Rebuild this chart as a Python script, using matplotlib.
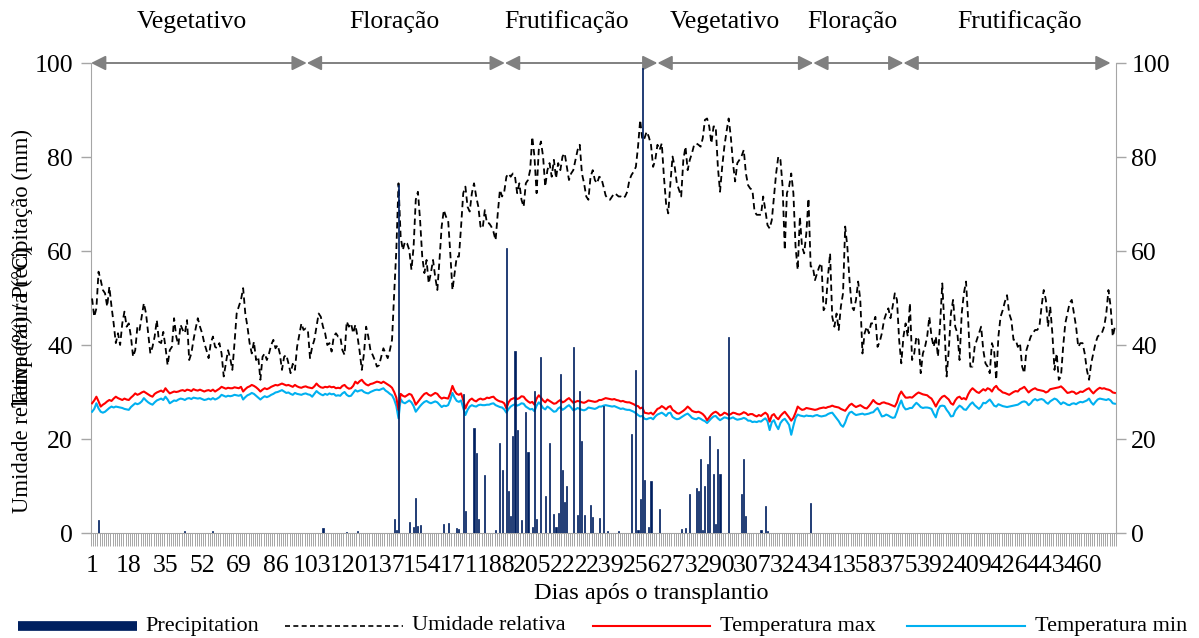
import numpy as np
import matplotlib
matplotlib.use('Agg')
import matplotlib.pyplot as plt
from matplotlib.lines import Line2D
from matplotlib.ticker import FixedLocator

# ---------------- data ----------------
humidity = [
    49.9, 46.0, 47.8, 55.6, 53.8, 51.7, 51.0, 48.2, 52.4, 48.2,
    44.6, 40.4, 42.5, 40.0, 44.6, 47.1, 43.9, 44.6, 41.8, 37.5,
    38.9, 43.9, 43.2, 46.0, 48.9, 46.7, 42.5, 38.2, 39.6, 41.8,
    45.3, 40.7, 40.4, 42.8, 39.6, 35.7, 38.9, 39.6, 45.7, 41.8,
    40.0, 44.3, 43.2, 42.5, 45.3, 36.8, 38.2, 41.1, 43.5, 45.7,
    43.9, 42.5, 40.4, 38.9, 37.2, 40.4, 41.8, 39.6, 39.3, 40.4,
    38.2, 33.3, 36.1, 38.9, 37.2, 34.7, 40.4, 46.7, 48.2, 49.6,
    52.1, 46.7, 43.9, 40.4, 38.2, 40.7, 36.8, 37.5, 32.6, 37.5,
    38.2, 36.8, 38.2, 40.0, 41.1, 39.3, 40.0, 38.2, 34.7, 37.5,
    37.9, 36.1, 34.0, 36.0, 34.7,
    39.6, 42.1, 44.6, 43.2, 43.5, 43.2, 37.2, 39.6, 41.1, 43.9,
    46.7, 46.0, 43.9, 42.5, 40.0, 40.4, 38.6, 41.8, 42.5, 41.8,
    41.8, 38.9, 37.9, 45.0, 43.9, 44.6, 42.5, 44.3, 41.8, 38.6,
    34.7, 38.2, 43.9, 41.8, 38.9, 37.9, 36.8, 35.4, 35.7, 37.5,
    39.3, 38.2, 37.2, 38.9, 41.1, 51.0, 60.2, 74.4, 63.0, 60.2,
    62.0, 61.6, 60.2, 56.0, 60.9, 70.9, 72.6, 66.6, 58.8, 55.3,
    58.1, 53.1, 55.3, 58.1, 54.5, 51.7, 58.1, 65.2, 68.7, 67.3,
    66.6, 59.5, 51.7, 55.3, 58.8, 58.8, 65.2, 72.3, 73.7, 69.4,
    68.4, 72.3, 74.4, 71.6, 69.4, 65.2, 64.8, 68.7, 65.9, 65.9,
    65.2, 64.1, 62.3, 68.0, 73.0,
    71.6, 72.6, 75.8, 76.5, 75.8, 76.5, 75.8, 72.3, 74.4, 70.9,
    69.4, 74.4, 75.1, 77.2, 84.3, 80.1, 72.3, 81.5, 83.3, 80.1,
    73.7, 77.2, 78.7, 75.8, 79.4, 75.5, 78.7, 77.2, 80.1, 80.8,
    77.9, 75.1, 76.5, 77.2, 79.4, 81.5, 82.6, 76.5, 74.4, 71.6,
    70.9, 75.8, 77.2, 75.1, 74.4, 75.8, 75.5, 73.7, 71.8, 71.1,
    70.9, 71.6, 72.3, 72.0, 71.6, 71.6, 71.2, 71.6, 72.6, 75.1,
    76.2, 76.9, 77.9, 82.2, 87.9, 83.6, 84.0, 85.4, 84.3, 82.6,
    77.9, 79.4, 82.6, 81.5, 82.9, 75.8, 70.1, 68.0, 74.4, 80.1,
    77.9, 74.4, 73.0, 71.6, 79.4, 82.2, 77.2, 79.4, 80.8, 82.6,
    82.9, 82.6, 82.2, 84.0, 87.9,
    88.2, 86.5, 82.9, 86.5, 86.5, 77.9, 72.6, 77.9, 82.2, 85.4,
    88.2, 84.3, 78.7, 74.8, 78.7, 79.4, 80.2, 81.5, 76.5, 74.0,
    73.3, 73.0, 68.4, 67.7, 67.7, 67.7, 71.6, 68.7, 65.5, 64.8,
    66.6, 71.6, 76.5, 80.1, 79.4, 73.7, 60.2, 72.3, 73.7, 76.5,
    72.3, 60.9, 56.0, 67.3, 60.9, 59.5, 63.8, 71.2, 56.7, 56.7,
    53.8, 55.3, 56.7, 57.4, 47.4, 48.2, 54.5, 59.5, 46.0, 43.9,
    46.7, 43.2, 48.2, 51.0, 65.2, 60.9, 53.8, 48.2, 47.4, 49.6,
    53.5, 49.6, 38.2, 42.5, 43.9, 42.5, 44.6, 44.6, 46.0, 39.6,
    40.7, 42.5, 45.3, 46.7, 47.8, 45.7, 48.2, 51.0, 49.6, 41.1,
    36.1, 41.8, 44.6, 41.8, 48.9, 36.8,
    38.2, 41.8, 41.1, 34.0, 38.2, 39.6, 41.8, 46.0, 41.8, 39.6,
    41.8, 37.5, 44.6, 53.1, 43.9, 33.3, 38.9, 46.7, 49.6, 43.9,
    42.5, 36.8, 46.7, 51.0, 53.5, 45.3, 35.4, 35.4, 39.6, 41.1,
    42.5, 43.9, 38.9, 36.1, 35.4, 34.0, 40.4, 38.9, 32.6, 41.8,
    46.0, 47.4, 49.2, 50.6, 46.7, 45.3, 41.1, 41.1, 39.6, 40.4,
    35.4, 34.0, 38.9, 40.4, 41.8, 42.5, 43.2, 43.2, 43.9, 48.2,
    51.7, 49.6, 43.9, 48.2, 42.5, 34.7, 38.2, 32.6, 33.3, 39.6,
    44.6, 46.7, 48.9, 49.6, 46.7, 43.9, 39.6, 40.4, 40.4, 38.2,
    34.7, 32.6, 36.1, 38.2, 40.4, 41.8, 42.2, 42.6, 43.9, 46.7,
    51.7, 48.2, 41.8, 43.9,
]

temp_max = [
    27.6, 28.2, 29.0, 28.0, 26.9, 27.3, 27.6, 28.0, 28.3, 28.1,
    28.6, 29.0, 28.7, 28.5, 28.3, 28.6, 28.4, 28.3, 28.8, 29.2,
    29.7, 29.4, 29.6, 29.9, 30.1, 29.8, 29.5, 29.2, 29.0, 29.6,
    29.9, 30.1, 30.3, 30.0, 30.8, 30.2, 29.7, 29.9, 30.1, 30.0,
    30.1, 30.3, 30.4, 30.2, 30.5, 30.4, 30.2, 30.6, 30.4, 30.3,
    30.5, 30.3, 30.1, 30.3, 30.4, 30.2, 30.5, 30.1, 30.4, 30.7,
    31.1, 30.9, 30.7, 30.9, 30.8, 30.8, 31.0, 30.9, 30.8, 31.1,
    30.1, 30.6, 31.0, 31.2, 31.5, 31.3, 31.0, 30.6, 30.1, 30.5,
    30.8, 30.6, 30.8, 31.1, 31.3, 31.5, 31.4, 31.6, 31.8, 31.6,
    31.4, 31.5, 31.3, 31.1, 31.5, 31.2, 31.0, 30.9, 31.1, 31.2,
    31.0, 30.9, 30.8, 31.2, 31.8, 31.3, 31.0, 30.9, 31.1, 31.0,
    31.2, 31.0, 31.1, 30.8, 30.9, 30.8, 31.3, 31.5, 31.0, 30.7,
    30.8, 31.3, 32.2, 31.8, 32.3, 32.6, 32.0, 31.6, 31.4, 31.7,
    31.8, 32.0, 32.2, 32.1, 31.9, 32.2, 31.9, 31.6, 31.3, 30.9,
    30.0, 28.8, 26.2, 29.6, 29.2, 29.0, 29.3, 29.6, 29.4, 28.5,
    27.3, 27.9, 28.5, 29.1, 29.6, 29.8, 29.4, 29.2, 29.5, 29.8,
    29.6, 29.0, 28.6, 28.8, 28.7, 28.6, 29.8, 31.3, 30.2, 29.6,
    29.4, 29.7, 28.3, 26.5, 27.6, 28.3, 28.6, 28.2, 28.0, 28.4,
    28.6, 28.4, 28.5, 28.8, 28.7, 28.9, 29.0, 28.5, 28.2, 28.0,
    27.9, 27.6, 26.5, 27.8, 28.4, 28.6, 28.8, 28.5, 28.7, 29.1,
    29.0, 28.4, 28.0, 27.7, 27.9, 27.3, 28.6, 29.3, 28.8, 28.2,
    27.8, 28.4, 28.1, 27.8, 27.5, 27.6, 28.0, 28.3, 27.8, 28.0,
    28.4, 28.7, 28.2, 27.7, 27.9, 28.1, 28.0, 27.8, 27.7, 27.9,
    28.2, 28.1, 28.0, 27.9, 28.0, 28.3, 28.3, 28.5, 28.7, 28.6,
    28.5, 28.4, 28.5, 28.3, 28.2, 28.0, 28.1, 27.9, 27.8, 27.8,
    27.6, 27.4, 27.1, 27.0, 26.5, 26.7, 25.6, 25.5, 25.4, 25.6,
    25.2, 25.8, 26.4, 26.6, 27.0, 26.7, 26.3, 26.8, 27.0, 26.2,
    25.9, 25.5, 25.4, 25.7, 26.0, 26.4, 26.9, 26.5, 26.0, 25.8,
    25.7, 25.8, 25.6, 25.3, 24.8, 24.0, 24.6, 25.2, 25.6, 25.8,
    25.5, 25.0, 25.2, 25.6, 25.4, 25.1, 25.3, 25.6, 25.5, 25.3,
    25.2, 25.4, 25.7, 25.5, 25.1, 25.3, 25.3, 25.0, 24.8, 25.1,
    24.9, 25.3, 25.6, 25.2, 23.7, 25.0, 25.3, 24.6, 24.2, 24.9,
    25.4, 25.8, 25.2, 24.6, 23.9, 24.5, 25.6, 26.9, 26.5, 26.2,
    26.3, 26.6, 26.5, 26.4, 26.3, 26.2, 26.3, 26.5, 26.6, 26.7,
    26.6, 26.8, 26.9, 27.1, 26.9, 26.8, 26.7, 26.4, 26.2, 26.0,
    26.6, 27.2, 27.5, 27.1, 26.8, 27.0, 27.2, 26.9, 26.6, 26.5,
    27.0, 27.6, 28.3, 27.8, 27.5, 27.4, 27.7, 27.8, 27.6, 27.5,
    27.3, 27.1, 26.9, 27.8, 29.3, 30.1, 29.4, 28.8, 28.8, 28.9,
    28.8, 29.2, 29.6, 29.9, 29.7, 29.5, 29.4, 29.3, 28.9, 28.6,
    27.8, 26.9, 27.8, 28.5, 29.0, 29.2, 28.8, 28.4, 27.6, 27.3,
    28.2, 28.8, 29.0, 28.5, 28.7, 28.4, 29.5, 30.3, 30.8, 30.4,
    30.0, 29.8, 30.2, 30.6, 30.3, 30.8, 30.6, 30.1, 30.9, 31.3,
    30.6, 30.3, 29.9, 29.8, 29.6, 29.4, 29.7, 30.0, 30.2, 30.1,
    30.6, 30.8, 31.1, 30.5, 29.9, 30.3, 30.6, 30.8, 30.5, 30.4,
    30.3, 30.2, 29.9, 30.1, 30.6, 30.7, 30.8, 30.9, 31.0, 31.2,
    30.8, 30.3, 29.8, 29.9, 30.1, 30.0, 29.6, 29.8, 30.1, 30.0,
    30.3, 30.6, 30.8, 30.2, 29.7, 30.2, 30.6, 30.9, 30.7, 30.8,
    30.6, 30.5, 30.3, 29.9, 29.8,
]

temp_min = [
    25.8, 26.4, 27.6, 26.5, 25.8, 25.6, 25.8, 26.2, 26.6, 26.9,
    26.7, 26.9, 26.8, 26.7, 26.6, 26.4, 26.3, 26.2, 26.8, 27.2,
    27.6, 27.4, 27.6, 28.0, 28.7, 28.2, 27.8, 27.5, 27.3, 27.8,
    28.2, 28.4, 28.6, 28.3, 29.0, 28.4, 27.6, 27.9, 28.2, 28.1,
    28.4, 28.6, 28.5, 28.3, 28.6, 28.7, 28.5, 28.8, 28.7, 28.6,
    28.7, 28.5, 28.3, 28.4, 28.6, 28.4, 28.7, 28.4, 28.6, 28.9,
    29.4, 29.2, 29.0, 29.2, 29.1, 29.2, 29.4, 29.3, 29.2, 29.4,
    28.4, 28.9, 29.3, 29.5, 29.8, 29.6, 29.2, 28.8, 28.4, 28.8,
    29.1, 28.9, 29.1, 29.4, 29.6, 29.9, 30.0, 30.2, 30.4, 30.1,
    29.8, 29.9, 29.6, 29.4, 29.8, 29.6, 29.5, 29.4, 29.6, 29.7,
    29.5, 29.4, 29.0, 29.6, 30.2, 29.8, 29.5, 29.3, 29.6, 29.4,
    29.7, 29.5, 29.6, 29.2, 29.3, 29.2, 29.7, 30.0, 29.4, 29.1,
    29.2, 29.8, 30.4, 30.1, 30.3, 30.4, 30.0, 29.8, 29.7, 30.0,
    30.2, 30.4, 30.5, 30.4, 30.6, 30.8, 30.3, 30.0, 29.6, 29.3,
    28.4, 27.0, 24.4, 28.5, 27.8, 27.6, 27.9, 28.2, 27.8, 27.0,
    25.8, 26.4, 27.0, 27.5, 27.9, 28.1, 27.8, 27.6, 27.8, 28.0,
    27.8, 27.3, 26.8, 27.1, 27.0, 27.2, 28.3, 29.8, 28.8, 28.1,
    27.9, 28.2, 26.6, 25.1, 26.2, 26.9, 27.2, 27.0, 26.9, 27.2,
    27.3, 27.2, 27.2, 27.3, 27.3, 27.5, 27.6, 27.2, 27.0, 26.8,
    26.7, 26.3, 25.6, 26.4, 26.9, 27.2, 27.4, 27.1, 27.3, 27.6,
    27.5, 26.9, 26.6, 26.3, 26.4, 25.9, 27.1, 27.8, 27.3, 26.6,
    26.3, 26.9, 26.6, 26.2, 25.8, 25.9, 26.5, 26.8, 26.2, 26.5,
    26.9, 27.2, 26.7, 26.1, 26.3, 26.6, 26.4, 26.2, 26.1, 26.3,
    26.7, 26.6, 26.5, 26.4, 26.6, 26.9, 26.9, 27.1, 27.2, 27.1,
    27.0, 26.9, 27.0, 26.8, 26.6, 26.4, 26.5, 26.3, 26.2, 26.2,
    26.0, 25.8, 25.5, 25.1, 24.8, 24.9, 24.3, 24.2, 24.4, 24.5,
    24.2, 24.8, 25.2, 25.4, 25.6, 25.3, 24.9, 25.5, 25.6, 24.7,
    24.4, 24.2, 24.3, 24.6, 24.9, 25.2, 25.4, 25.0, 24.5, 24.3,
    24.2, 24.5, 24.3, 24.0, 23.8, 23.4, 23.9, 24.4, 24.8, 24.9,
    24.4, 24.0, 24.3, 24.6, 24.5, 24.3, 24.4, 24.6, 24.3, 24.1,
    24.2, 24.3, 24.5, 24.3, 23.9, 23.9, 23.6, 23.7, 23.6, 23.8,
    23.7, 24.1, 24.4, 23.8, 21.9, 23.6, 24.0, 22.9, 22.1, 23.4,
    24.0, 24.3, 23.7, 23.0, 20.9, 22.8, 24.5, 25.2, 25.0, 24.9,
    24.8, 25.0, 24.9, 24.9, 24.8, 25.0, 25.1, 24.9, 24.8, 24.9,
    25.0, 25.3, 25.5, 25.6, 25.0, 24.4, 23.8, 23.0, 22.6, 23.5,
    24.8, 25.6, 25.8, 25.4, 25.1, 25.2, 25.3, 25.4, 25.2, 25.3,
    25.4, 25.6, 25.7, 26.2, 26.6, 25.7, 24.8, 24.9, 25.2, 25.0,
    24.7, 24.5, 24.6, 25.8, 27.2, 28.2, 26.9, 26.3, 26.4, 26.6,
    26.6, 27.2, 27.7, 27.3, 26.8, 26.6, 26.7, 26.7, 26.6, 26.4,
    25.4, 24.6, 26.2, 27.0, 27.1, 27.0, 26.2, 25.6, 24.8, 24.9,
    26.0, 26.6, 27.1, 26.8, 26.3, 26.2, 26.8, 27.4, 27.8, 27.2,
    26.8, 26.4, 26.9, 27.7, 27.6, 28.0, 28.4, 27.8, 27.1, 26.9,
    27.4, 27.2, 27.0, 26.9, 26.8, 26.9, 27.0, 27.1, 27.2, 27.3,
    27.6, 27.9, 28.0, 27.8, 27.2, 27.6, 28.2, 28.5, 28.2, 28.4,
    28.5, 28.3, 27.8, 27.5, 28.0, 28.3, 28.6, 28.4, 27.9, 27.4,
    27.8, 27.6, 27.3, 27.2, 27.5, 27.6, 27.4, 27.7, 27.9, 27.8,
    28.0, 28.2, 28.6, 27.8, 27.3, 27.9, 28.4, 28.6, 28.5, 28.4,
    28.3, 28.5, 28.2, 27.6, 27.5,
]

precip_days = [
    4, 44, 57, 108, 119, 124, 141, 142, 143, 148, 150, 151, 152, 153, 164,
    166, 170, 171, 173, 174, 178, 179, 180, 183, 188, 190,
    191, 193, 194, 195, 196, 197, 198, 200, 202, 203,
    205, 206, 207, 209, 211, 213, 215, 216, 217, 218,
    219, 220, 221, 224, 226, 227, 228, 229, 232, 233,
    236, 238, 240, 245, 251, 253, 254, 255, 256, 257,
    259, 260, 264, 274, 276, 278, 281, 282, 283, 284, 285,
    286, 287, 289, 290, 291, 292, 296, 302, 303, 304, 311, 313, 314, 334,
]
precip_vals = [
    2.8, 0.4, 0.4, 1.0, 0.3, 0.4, 2.9, 0.6, 74.0, 2.3, 1.2, 7.4, 1.5, 1.7, 1.9,
    2.1, 1.0, 0.9, 29.6, 4.6, 22.3, 17.0, 2.9, 12.3, 0.6, 19.1,
    13.4, 60.7, 9.0, 3.6, 20.6, 38.7, 21.9, 2.8, 25.8, 17.3,
    1.3, 30.2, 2.9, 37.4, 7.9, 19.1, 4.1, 1.3, 4.3, 33.9,
    13.4, 6.7, 9.9, 39.6, 3.8, 30.2, 19.6, 3.8, 6.0, 3.5,
    3.2, 27.0, 0.4, 0.4, 21.0, 34.7, 0.6, 7.2, 99.0, 11.3,
    1.3, 11.0, 5.1, 0.9, 1.1, 8.3, 9.6, 9.0, 15.8, 0.6, 10.0,
    14.7, 20.6, 12.6, 1.9, 17.9, 12.6, 41.8, 8.3, 15.7, 3.6, 0.6, 5.7, 0.4, 6.4,
]

xtick_days = list(range(1, 461, 17))
y_ticks = [0, 20, 40, 60, 80, 100]

phase_names = ['Vegetativo', 'Floração', 'Frutificação',
               'Vegetativo', 'Floração', 'Frutificação']
phase_edges = [0.5, 100.5, 192.3, 263.0, 335.2, 377.0, 473.0]
phase_label_days = [47.3, 141.3, 221.0, 294.2, 353.4, 430.8]

legend_labels = ['Precipitation', 'Umidade relativa',
                 'Temperatura max', 'Temperatura min']

# ---------------- style ----------------
plt.rcParams['font.family'] = ['Liberation Serif', 'DejaVu Serif']
FS = 18.5
GRAY = '#a6a6a6'
NAVY = '#002060'
RED = '#ff0000'
CYAN = '#00b0f0'

n = min(len(humidity), len(temp_max), len(temp_min))
days = np.arange(1, n + 1)
precip = np.zeros(n)
for d, v in zip(precip_days, precip_vals):
    precip[d - 1] = v

W, H = 1199, 638
fig = plt.figure(figsize=(W / 100, H / 100), dpi=100)
ax = fig.add_axes([91 / W, 1 - 533 / H, (1116 - 91) / W, (533 - 63) / H])
ax2 = ax.twinx()

ax.plot(days, temp_min[:n], color=CYAN, lw=1.5, zorder=3)
ax.plot(days, temp_max[:n], color=RED, lw=1.5, zorder=3)
ax.plot(days, humidity[:n], color='black', lw=1.3, dashes=(3.5, 2.2), zorder=4)
ax2.bar(days, precip, width=0.5, color=NAVY, edgecolor=NAVY, linewidth=0.5)

for a in (ax, ax2):
    a.set_xlim(0.5, n + 0.5)
    a.set_ylim(0, 100)
    a.set_yticks(y_ticks)
    a.patch.set_visible(False)
    for s in a.spines.values():
        s.set_visible(False)

ax.spines['left'].set_visible(True)
ax.spines['left'].set_color(GRAY)
ax.spines['bottom'].set_visible(True)
ax.spines['bottom'].set_color(GRAY)
ax2.spines['right'].set_visible(True)
ax2.spines['right'].set_color(GRAY)

ax.tick_params(axis='y', direction='out', length=7, width=1, color=GRAY,
               labelsize=FS, pad=6)
ax2.tick_params(axis='y', direction='out', length=7, width=1, color=GRAY,
                labelsize=FS, pad=4)

ax.set_xticks(xtick_days)
ax.set_xticklabels([str(d) for d in xtick_days])
ax.xaxis.set_minor_locator(FixedLocator(np.arange(0.5, n + 1.0, 1.0)))
ax.tick_params(axis='x', which='major', length=0, labelsize=FS, pad=16)
ax.tick_params(axis='x', which='minor', direction='out', length=9, width=0.7,
               color=GRAY)

# phase arrows and labels
for i, name in enumerate(phase_names):
    ax.annotate('', xy=(phase_edges[i + 1], 100), xytext=(phase_edges[i], 100),
                xycoords='data', annotation_clip=False,
                arrowprops=dict(arrowstyle='<|-|>', color='#808080', lw=1.4,
                                mutation_scale=22, shrinkA=0, shrinkB=0))
    fig.text((91 + (phase_label_days[i] - 0.5) * (1116 - 91) / n) / W,
             1 - 22 / H, name, fontsize=FS, ha='center', va='center')

# axis titles (the two left titles overlap, as in the original)
fig.text(651 / W, 1 - 594 / H, 'Dias após o transplantio', fontsize=17.5,
         ha='center', va='center')
fig.text(22 / W, 1 - 321 / H, 'Umidade relativa (%) / Precipitação (mm)',
         fontsize=16.4, rotation=90, ha='center', va='center')
fig.text(22 / W, 1 - 327 / H, 'Temperatura (°C)',
         fontsize=16.4, rotation=90, ha='center', va='center')

# legend (manual)
ly = 1 - 626 / H
fig.add_artist(Line2D([18 / W, 137 / W], [ly, ly], transform=fig.transFigure,
                      color=NAVY, lw=7, solid_capstyle='butt'))
fig.add_artist(Line2D([285 / W, 403 / W], [ly, ly], transform=fig.transFigure,
                      color='black', lw=1.2, dashes=(3, 2)))
fig.add_artist(Line2D([593 / W, 710 / W], [ly, ly], transform=fig.transFigure,
                      color=RED, lw=1.5))
fig.add_artist(Line2D([907 / W, 1025 / W], [ly, ly], transform=fig.transFigure,
                      color=CYAN, lw=1.5))
for xt, lab in zip([145, 412, 720, 1035], legend_labels):
    fig.text(xt / W, ly, lab, fontsize=16, ha='left', va='center')

fig.savefig('out.png', dpi=100)
